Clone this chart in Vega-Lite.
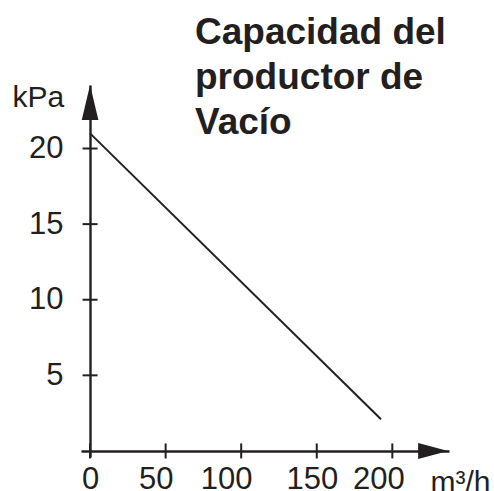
{
  "$schema": "https://vega.github.io/schema/vega-lite/v6.json",
  "width": 368,
  "height": 372,
  "autosize": "none",
  "padding": {"left": 81, "top": 85, "right": 45, "bottom": 34},
  "background": "white",
  "config": {"view": {"stroke": null}, "font": "Liberation Sans"},
  "title": {
    "text": ["Capacidad del", "productor de", "Vacío"],
    "anchor": "start",
    "frame": "group",
    "font": "Liberation Sans",
    "fontSize": 37,
    "fontWeight": "bold",
    "color": "#231f20",
    "lineHeight": 45,
    "baseline": "top",
    "offset": 0,
    "dx": 114,
    "dy": 60
  },
  "datasets": {
    "curve": [{"flow": 0, "pressure": 21.0}, {"flow": 192.5, "pressure": 2.1}],
    "xticks": [{"flow": 0}, {"flow": 50}, {"flow": 100}, {"flow": 150}, {"flow": 200}],
    "yticks": [{"pressure": 5}, {"pressure": 10}, {"pressure": 15}, {"pressure": 20}],
    "xarrow": [{"flow": 227, "pressure": 0}],
    "yarrow": [{"flow": 0, "pressure": 23.04}]
  },
  "layer": [
    {
      "data": {"name": "curve"},
      "mark": {"type": "line", "color": "#231f20", "strokeWidth": 2, "clip": false},
      "encoding": {
        "x": {
          "field": "flow",
          "type": "quantitative",
          "scale": {"domain": [-6, 237.5], "nice": false, "zero": false},
          "axis": {
            "orient": "bottom",
            "offset": -6,
            "values": [0, 50, 100, 150, 200],
            "domain": true,
            "domainColor": "#231f20",
            "domainWidth": 2.4,
            "ticks": false,
            "tickSize": 0,
            "grid": false,
            "labelFont": "Liberation Sans",
            "labelFontSize": 31,
            "labelColor": "#231f20",
            "labelPadding": 13,
            "labelFlush": false,
            "labelOverlap": false,
            "labelOffset": {
              "condition": [
                {"test": "datum.value == 50", "value": -10},
                {"test": "datum.value == 100", "value": -15},
                {"test": "datum.value == 150", "value": -5},
                {"test": "datum.value == 200", "value": -14}
              ],
              "value": 0
            },
            "title": "m³/h",
            "titleFont": "Liberation Sans",
            "titleFontSize": 30,
            "titleFontWeight": "normal",
            "titleColor": "#231f20",
            "titleAnchor": "start",
            "titleAlign": "left",
            "titleBaseline": "alphabetic",
            "titleX": 349,
            "titleY": 40
          }
        },
        "y": {
          "field": "pressure",
          "type": "quantitative",
          "scale": {"domain": [-0.4, 24.2], "nice": false, "zero": false},
          "axis": {
            "orient": "left",
            "offset": -9,
            "values": [5, 10, 15, 20],
            "domain": true,
            "domainColor": "#231f20",
            "domainWidth": 2.4,
            "ticks": false,
            "tickSize": 0,
            "grid": false,
            "labelFont": "Liberation Sans",
            "labelFontSize": 31,
            "labelColor": "#231f20",
            "labelPadding": 27,
            "labelFlush": false,
            "labelOverlap": false,
            "title": "kPa",
            "titleFont": "Liberation Sans",
            "titleFontSize": 30,
            "titleFontWeight": "normal",
            "titleColor": "#231f20",
            "titleAngle": 0,
            "titleAlign": "left",
            "titleBaseline": "alphabetic",
            "titleX": -78,
            "titleY": 21
          }
        }
      }
    },
    {
      "data": {"name": "xticks"},
      "mark": {"type": "tick", "orient": "vertical", "size": 15, "thickness": 2, "color": "#231f20", "opacity": 1, "clip": false},
      "encoding": {
        "x": {"field": "flow", "type": "quantitative"},
        "y": {"datum": 0, "type": "quantitative"}
      }
    },
    {
      "data": {"name": "yticks"},
      "mark": {"type": "tick", "orient": "horizontal", "size": 15, "thickness": 2, "color": "#231f20", "opacity": 1, "clip": false},
      "encoding": {
        "x": {"datum": 0, "type": "quantitative"},
        "y": {"field": "pressure", "type": "quantitative"}
      }
    },
    {
      "data": {"name": "xarrow"},
      "mark": {"type": "point", "shape": "M-1,-0.53L1,0L-1,0.53Z", "size": 900, "filled": true, "color": "#231f20", "opacity": 1, "strokeWidth": 0, "clip": false},
      "encoding": {
        "x": {"field": "flow", "type": "quantitative"},
        "y": {"field": "pressure", "type": "quantitative"}
      }
    },
    {
      "data": {"name": "yarrow"},
      "mark": {"type": "point", "shape": "M-0.475,1L0,-1L0.475,1Z", "size": 1225, "filled": true, "color": "#231f20", "opacity": 1, "strokeWidth": 0, "clip": false},
      "encoding": {
        "x": {"field": "flow", "type": "quantitative"},
        "y": {"field": "pressure", "type": "quantitative"}
      }
    }
  ]
}
